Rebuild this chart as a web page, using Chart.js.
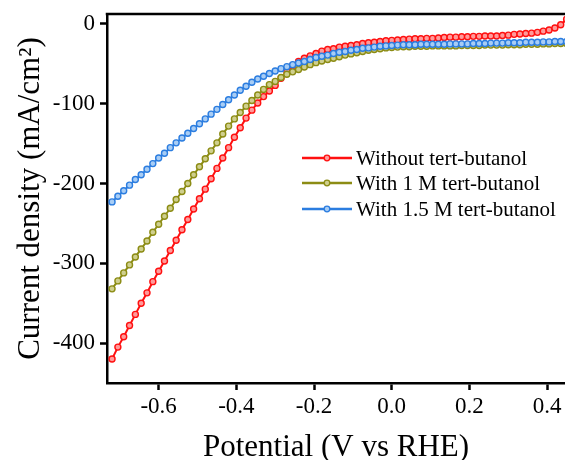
<!DOCTYPE html>
<html>
<head>
<meta charset="utf-8">
<script src="https://cdn.jsdelivr.net/npm/chart.js@4"></script>
<style>
  html, body { margin: 0; padding: 0; background: #fff; }
  #wrap { width: 565px; height: 460px; }
</style>
</head>
<body>
<div id="wrap"><canvas id="chart" width="565" height="460"></canvas></div>
<script>
// LSV curves, current density vs potential
const POTENTIAL = [-0.72, -0.705, -0.69, -0.675, -0.66, -0.645, -0.63, -0.615, -0.6,
  -0.585, -0.57, -0.555, -0.54, -0.525, -0.51, -0.495, -0.48, -0.465, -0.45,
  -0.435, -0.42, -0.405, -0.39, -0.375, -0.36, -0.345, -0.33, -0.315, -0.3,
  -0.285, -0.27, -0.255, -0.24, -0.225, -0.21, -0.195, -0.18, -0.165, -0.15,
  -0.135, -0.12, -0.105, -0.09, -0.075, -0.06, -0.045, -0.03, -0.015, 0,
  0.015, 0.03, 0.045, 0.06, 0.075, 0.09, 0.105, 0.12, 0.135, 0.15,
  0.165, 0.18, 0.195, 0.21, 0.225, 0.24, 0.255, 0.27, 0.285, 0.3,
  0.315, 0.33, 0.345, 0.36, 0.375, 0.39, 0.405, 0.42, 0.435, 0.45];

const WITHOUT_TBA = [-420, -405, -392, -378, -364, -350, -337, -323, -310,
  -297, -284, -271, -258, -245, -232, -219, -207, -194, -181,
  -168, -155, -142, -130, -118, -108, -99, -91, -84, -77,
  -68, -59, -52, -47, -43, -40, -37, -34, -32, -31,
  -29, -28, -27, -26, -24.5, -23.5, -23, -22, -21, -20.5,
  -20, -19.5, -19, -18.5, -18.5, -18, -18, -17.5, -17, -16.5,
  -16.5, -16, -16, -15.5, -15.5, -15, -15, -15, -14.5, -14,
  -13, -12.5, -12, -11.5, -10.5, -9, -7.5, -5, -1, 6];

const WITH_1M_TBA = [-332, -322, -312, -302, -292, -282, -272, -261, -251,
  -241, -231, -220, -210, -200, -189, -179, -169, -159, -149,
  -138, -128, -119, -111, -103, -96, -89, -82, -76, -72,
  -67, -63, -60, -57, -54, -51, -48.5, -46.5, -44.5, -43,
  -41, -39, -37.5, -36, -34.5, -33, -32, -31, -30, -29.5,
  -29, -28.5, -28.5, -28, -28, -28, -27.5, -27.5, -27.5, -27.5,
  -27.5, -27, -27, -27, -27, -26.5, -26.5, -26.5, -26.5, -26,
  -26, -26, -25.5, -25.5, -25.5, -25, -25, -24.5, -24.5, -24.5];

const WITH_1_5M_TBA = [-223, -216, -209, -202, -195, -189, -182, -175, -168,
  -162, -155, -149, -143, -137, -131, -125, -119, -113, -107,
  -101, -95, -89, -83, -78, -73, -69, -65.5, -62, -59,
  -56, -53.5, -51, -49, -47, -44.5, -42, -40.5, -39, -37,
  -35.5, -34.5, -33, -32, -30.5, -30, -29, -28, -27.5, -27,
  -26.5, -26, -26, -26, -25.5, -25.5, -25.5, -25.5, -25.5, -25,
  -25, -25, -25, -24.5, -24.5, -24.5, -24, -24, -24, -23.5,
  -23.5, -23.5, -23, -23, -23, -22.5, -22.5, -22, -22, -22];

const SERIES_LABELS = ['Without tert-butanol', 'With 1 M tert-butanol', 'With 1.5 M tert-butanol'];
const X_TICKS = [-0.6, -0.4, -0.2, 0.0, 0.2, 0.4];
const Y_TICKS = [0, -100, -200, -300, -400];

const COLORS = {
  line: ['#ff1010', '#8c8c14', '#2b7de0'],
  fill: ['#ff9a9a', '#cfcf8e', '#a8cdf5']
};
const FONT = "'Liberation Serif', 'Times New Roman', serif";

Chart.defaults.font.family = FONT;
Chart.defaults.color = '#000';

const toPoints = ys => ys.map((y, i) => ({ x: POTENTIAL[i], y }));

function makeDataset(idx, values, order) {
  return {
    label: SERIES_LABELS[idx],
    data: toPoints(values),
    borderColor: COLORS.line[idx],
    backgroundColor: COLORS.fill[idx],
    borderWidth: 2,
    pointRadius: 3,
    pointBorderWidth: 1.4,
    pointBorderColor: COLORS.line[idx],
    pointBackgroundColor: COLORS.fill[idx],
    tension: 0,
    order
  };
}

// legend drawn inside the plot, lines with one marker in the middle
const insideLegend = {
  id: 'insideLegend',
  afterDraw(chart) {
    const { ctx, chartArea } = chart;
    const x0 = chartArea.left + 195;
    const rows = [144, 169, 195];
    ctx.save();
    ctx.font = '21px ' + FONT;
    ctx.textBaseline = 'middle';
    SERIES_LABELS.forEach((label, i) => {
      const y = chartArea.top + rows[i];
      ctx.strokeStyle = COLORS.line[i];
      ctx.lineWidth = 2.5;
      ctx.beginPath();
      ctx.moveTo(x0, y);
      ctx.lineTo(x0 + 50, y);
      ctx.stroke();
      ctx.beginPath();
      ctx.arc(x0 + 25, y, 2.8, 0, Math.PI * 2);
      ctx.fillStyle = COLORS.fill[i];
      ctx.fill();
      ctx.lineWidth = 1.3;
      ctx.stroke();
      ctx.fillStyle = '#000';
      ctx.fillText(label, x0 + 54, y + 1);
    });
    ctx.restore();
  }
};

// top frame line (the right side is cut off in the original)
const topFrame = {
  id: 'topFrame',
  afterDraw(chart) {
    const { ctx, chartArea } = chart;
    ctx.save();
    ctx.strokeStyle = '#000';
    ctx.lineWidth = 2.5;
    ctx.beginPath();
    ctx.moveTo(chartArea.left - 1.25, chartArea.top);
    ctx.lineTo(chart.width, chartArea.top);
    ctx.stroke();
    ctx.restore();
  }
};

new Chart(document.getElementById('chart'), {
  type: 'line',
  data: {
    datasets: [
      makeDataset(0, WITHOUT_TBA, 3),
      makeDataset(1, WITH_1M_TBA, 2),
      makeDataset(2, WITH_1_5M_TBA, 1)
    ]
  },
  options: {
    responsive: false,
    devicePixelRatio: 1,
    animation: false,
    layout: { autoPadding: false, padding: { top: 14, right: 0, bottom: 0, left: 0 } },
    plugins: { legend: { display: false }, tooltip: { enabled: false } },
    scales: {
      x: {
        type: 'linear',
        min: -0.733,
        max: 0.446,
        afterBuildTicks: s => { s.ticks = X_TICKS.map(v => ({ value: v })); },
        afterFit: s => { s.height = 77; s.paddingLeft = 0; s.paddingRight = 0; },
        ticks: {
          padding: 3,
          font: { size: 23 },
          color: '#000',
          callback: v => v.toFixed(1)
        },
        grid: { drawOnChartArea: false, drawTicks: true, tickLength: 7, tickWidth: 2.5, tickColor: '#000' },
        border: { display: true, width: 2.5, color: '#000' },
        title: {
          display: true,
          text: 'Potential (V vs RHE)',
          font: { size: 31, lineHeight: 1.1 },
          color: '#000',
          padding: { top: 0, bottom: -5 }
        }
      },
      y: {
        type: 'linear',
        min: -450,
        max: 12.5,
        afterBuildTicks: s => { s.ticks = Y_TICKS.map(v => ({ value: v })); },
        afterFit: s => { s.width = 107; s.paddingTop = 0; s.paddingBottom = 0; },
        ticks: {
          padding: 5,
          font: { size: 23 },
          color: '#000',
          callback: v => String(v)
        },
        grid: { drawOnChartArea: false, drawTicks: true, tickLength: 7, tickWidth: 2.5, tickColor: '#000' },
        border: { display: true, width: 2.5, color: '#000' },
        title: {
          display: true,
          text: 'Current density (mA/cm²)',
          font: { size: 31, lineHeight: 1.1 },
          color: '#000',
          padding: { top: 14, bottom: 0 }
        }
      }
    }
  },
  plugins: [insideLegend, topFrame]
});
</script>
</body>
</html>
